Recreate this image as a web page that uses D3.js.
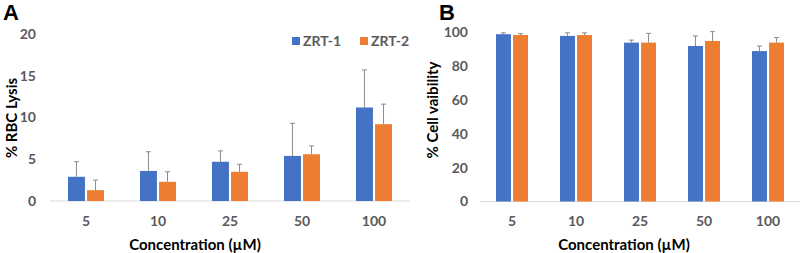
<!DOCTYPE html>
<html>
<head>
<meta charset="utf-8">
<script src="https://cdn.jsdelivr.net/npm/d3@7"></script>
<style>
  body { margin: 0; background: #fff; }
  svg { display: block; font-family: Lato, 'Open Sans', sans-serif; }
</style>
</head>
<body>
<svg id="chart" width="803" height="253"></svg>
<script>
'use strict';

// shared categories
const concentrations = ['5', '10', '25', '50', '100'];
const seriesNames = ['ZRT-1', 'ZRT-2'];
const seriesColors = ['#4472C4', '#ED7D31'];

// panel A: % RBC lysis (mean, sd)
const lysisZrt1 = [2.9, 3.6, 4.7, 5.4, 11.2];
const lysisZrt1Err = [1.8, 2.3, 1.3, 3.9, 4.5];
const lysisZrt2 = [1.3, 2.3, 3.5, 5.6, 9.2];
const lysisZrt2Err = [1.2, 1.2, 0.9, 1.0, 2.4];
const lysisTicks = [0, 5, 10, 15, 20];

// panel B: % cell viability (mean, sd)
const viabZrt1 = [99, 98, 94, 92, 89];
const viabZrt1Err = [0.8, 1.8, 1.5, 6, 3];
const viabZrt2 = [98.5, 98.5, 94, 95, 94];
const viabZrt2Err = [0.8, 1.3, 5.5, 5.5, 3];
const viabTicks = [0, 20, 40, 60, 80, 100];

const svg = d3.select('#chart');

function drawPanel(opt) {
    let g = svg.append('g');

    let x = d3.scaleBand().domain(concentrations)
        .range(opt.xRange);
    let x1 = d3.scaleBand().domain(seriesNames)
        .range([x.bandwidth() / 2 - opt.barW - opt.gap / 2,
            x.bandwidth() / 2 + opt.barW + opt.gap / 2])
        .paddingInner(opt.gap / (2 * opt.barW + opt.gap));
    let y = d3.scaleLinear().domain(opt.yDomain).range(opt.yRange);

    // baseline
    g.append('line')
        .attr('x1', opt.xRange[0]).attr('x2', opt.xRange[1])
        .attr('y1', y(0)).attr('y2', y(0))
        .attr('stroke', '#d9d9d9').attr('stroke-width', 1);

    // y tick labels
    g.selectAll('.ytick').data(opt.ticks).enter().append('text')
        .attr('x', opt.tickX)
        .attr('y', function(d) { return y(d); })
        .attr('dy', '0.35em')
        .attr('text-anchor', 'end')
        .attr('font-size', 14).attr('font-weight', 'bold')
        .attr('fill', '#595959')
        .text(function(d) { return d; });

    // x tick labels
    g.selectAll('.xtick').data(concentrations).enter().append('text')
        .attr('x', function(d) { return x(d) + x.bandwidth() / 2; })
        .attr('y', 221).attr('dy', '0.35em')
        .attr('text-anchor', 'middle')
        .attr('font-size', 14).attr('font-weight', 'bold')
        .attr('fill', '#595959')
        .text(function(d) { return d; });

    opt.series.forEach(function(s, si) {
        let name = seriesNames[si];
        let groups = g.append('g');
        groups.selectAll('rect').data(s.values).enter().append('rect')
            .attr('x', function(d, i) { return x(concentrations[i]) + x1(name); })
            .attr('width', x1.bandwidth())
            .attr('y', function(d) { return y(d); })
            .attr('height', function(d) { return y(0) - y(d); })
            .attr('fill', seriesColors[si]);

        // error bars (upper only)
        let eb = groups.selectAll('.err').data(s.values).enter().append('g')
            .attr('stroke', '#8c8c8c').attr('stroke-width', 1);
        eb.append('line')
            .attr('x1', function(d, i) { return x(concentrations[i]) + x1(name) + x1.bandwidth() / 2; })
            .attr('x2', function(d, i) { return x(concentrations[i]) + x1(name) + x1.bandwidth() / 2; })
            .attr('y1', function(d) { return y(d); })
            .attr('y2', function(d, i) { return y(d + s.errors[i]); });
        eb.append('line')
            .attr('x1', function(d, i) { return x(concentrations[i]) + x1(name) + x1.bandwidth() / 2 - 2.5; })
            .attr('x2', function(d, i) { return x(concentrations[i]) + x1(name) + x1.bandwidth() / 2 + 2.5; })
            .attr('y1', function(d, i) { return y(d + s.errors[i]); })
            .attr('y2', function(d, i) { return y(d + s.errors[i]); });
    });

    // panel letter
    g.append('text')
        .attr('x', opt.letterX).attr('y', 20)
        .attr('font-family', 'Liberation Sans, Arial, sans-serif')
        .attr('font-size', 22).attr('font-weight', 'bold')
        .attr('fill', '#000')
        .text(opt.letter);

    // y title
    g.append('text')
        .attr('transform', 'translate(' + opt.yTitleX + ',' + opt.yTitleY + ') rotate(-90)')
        .attr('text-anchor', 'middle').attr('dy', '0.35em')
        .attr('font-size', 15).attr('font-weight', 'bold')
        .attr('fill', '#000')
        .text(opt.yTitle);

    // x title
    g.append('text')
        .attr('x', (opt.xRange[0] + opt.xRange[1]) / 2 + opt.xTitleShift)
        .attr('y', 245).attr('dy', '0.35em')
        .attr('text-anchor', 'middle')
        .attr('font-size', 15).attr('font-weight', 'bold')
        .attr('fill', '#000')
        .text('Concentration (\u00b5M)');

    return g;
}

let panelA = drawPanel({
    letter: 'A', letterX: 3,
    xRange: [50, 410], yRange: [201, 34], yDomain: [0, 20],
    ticks: lysisTicks, tickX: 36,
    barW: 16, gap: 4,
    yTitle: '% RBC Lysis', yTitleX: 12, yTitleY: 118,
    xTitleShift: -35,
    series: [
        { values: lysisZrt1, errors: lysisZrt1Err },
        { values: lysisZrt2, errors: lysisZrt2Err },
    ],
});

drawPanel({
    letter: 'B', letterX: 439,
    xRange: [480, 800], yRange: [201.5, 32.5], yDomain: [0, 100],
    ticks: viabTicks, tickX: 468,
    barW: 14, gap: 4,
    yTitle: '% Cell vaibility', yTitleX: 433, yTitleY: 110,
    xTitleShift: -16,
    series: [
        { values: viabZrt1, errors: viabZrt1Err },
        { values: viabZrt2, errors: viabZrt2Err },
    ],
});

// legend for panel A
let legendX = [292, 360];
let legend = panelA.selectAll('.legend').data(seriesNames).enter().append('g')
    .attr('transform', function(d, i) { return 'translate(' + legendX[i] + ',37)'; });
legend.append('rect')
    .attr('width', 8).attr('height', 8)
    .attr('fill', function(d, i) { return seriesColors[i]; });
legend.append('text')
    .attr('x', 11).attr('y', 4).attr('dy', '0.35em')
    .attr('font-size', 14).attr('font-weight', 'bold')
    .attr('fill', '#595959')
    .text(function(d) { return d; });
</script>
</body>
</html>
